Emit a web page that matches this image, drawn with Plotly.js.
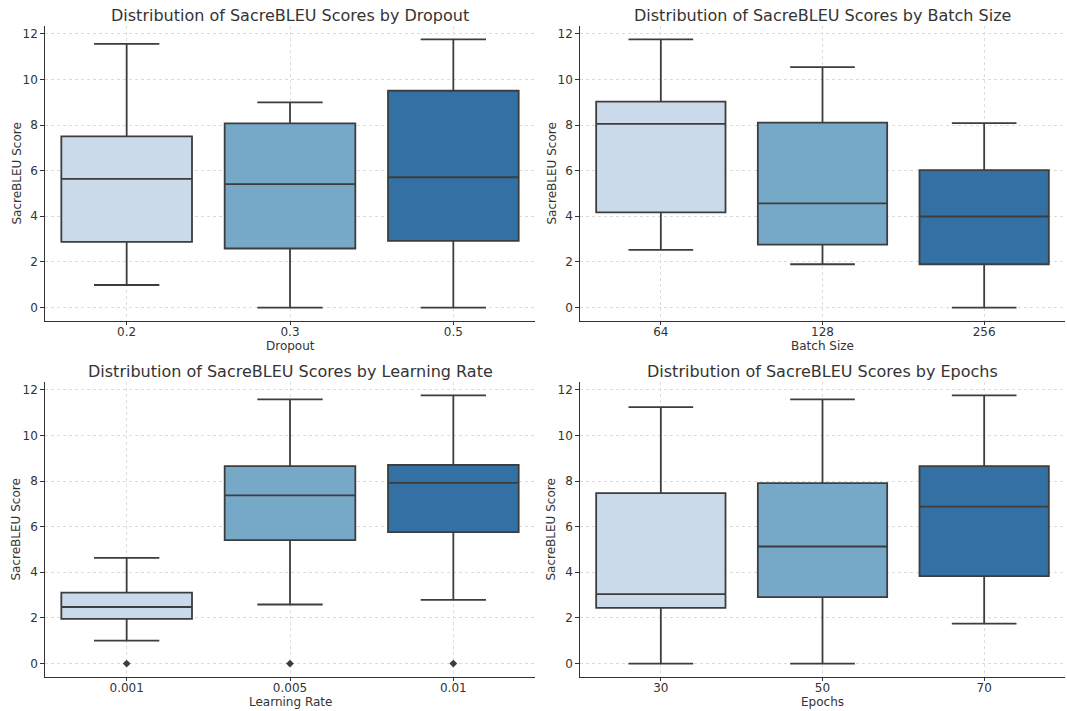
<!DOCTYPE html>
<html>
<head>
<meta charset="utf-8">
<script src="https://cdn.plot.ly/plotly-3.0.1.min.js"></script>
<style>html,body{margin:0;padding:0;background:#fff;}#chart{width:1067px;height:711px;}</style>
</head>
<body>
<div id="chart"></div>
<script>
// ---- data ----
const dropoutCats = ["0.2", "0.3", "0.5"];
const dropoutQ1 = [2.88, 2.59, 2.92];
const dropoutMed = [5.64, 5.41, 5.71];
const dropoutQ3 = [7.50, 8.07, 9.50];
const dropoutLo = [0.99, 0.0, 0.0];
const dropoutHi = [11.55, 8.99, 11.75];
const dropoutOut = [[], [], []];

const batchCats = ["64", "128", "256"];
const batchQ1 = [4.17, 2.76, 1.90];
const batchMed = [8.05, 4.57, 3.99];
const batchQ3 = [9.02, 8.10, 6.02];
const batchLo = [2.53, 1.90, 0.0];
const batchHi = [11.75, 10.54, 8.08];
const batchOut = [[], [], []];

const lrCats = ["0.001", "0.005", "0.01"];
const lrQ1 = [1.96, 5.41, 5.76];
const lrMed = [2.48, 7.37, 7.92];
const lrQ3 = [3.11, 8.65, 8.70];
const lrLo = [1.01, 2.59, 2.79];
const lrHi = [4.63, 11.58, 11.75];
const lrOut = [[0.0], [0.0], [0.0]];

const epochCats = ["30", "50", "70"];
const epochQ1 = [2.44, 2.91, 3.83];
const epochMed = [3.04, 5.13, 6.88];
const epochQ3 = [7.47, 7.91, 8.65];
const epochLo = [0.0, 0.0, 1.75];
const epochHi = [11.24, 11.58, 11.75];
const epochOut = [[], [], []];

const panelTitles = ["Distribution of SacreBLEU Scores by Dropout",
                     "Distribution of SacreBLEU Scores by Batch Size",
                     "Distribution of SacreBLEU Scores by Learning Rate",
                     "Distribution of SacreBLEU Scores by Epochs"];
const xLabels = ["Dropout", "Batch Size", "Learning Rate", "Epochs"];
const yLabel = "SacreBLEU Score";

// ---- styling ----
const fills = ["#cadaea", "#76a8c8", "#3370a3"];
const edge = "#3d3d3d";
const font = "DejaVu Sans, sans-serif";

const panels = [
  [dropoutCats, dropoutQ1, dropoutMed, dropoutQ3, dropoutLo, dropoutHi, dropoutOut],
  [batchCats, batchQ1, batchMed, batchQ3, batchLo, batchHi, batchOut],
  [lrCats, lrQ1, lrMed, lrQ3, lrLo, lrHi, lrOut],
  [epochCats, epochQ1, epochMed, epochQ3, epochLo, epochHi, epochOut]
];

const W = 1067, H = 711;
const xDom = [[45 / W, 535 / W], [580 / W, 1065 / W], [45 / W, 535 / W], [580 / W, 1065 / W]];
const yDom = [[1 - 321 / H, 1 - 26 / H], [1 - 321 / H, 1 - 26 / H], [1 - 677 / H, 1 - 382 / H], [1 - 677 / H, 1 - 382 / H]];
const xTitleY = [346, 346, 702, 702];
const yTitleX = [16, 551, 16, 551];

const traces = [];
const layout = {
  width: W, height: H,
  margin: {l: 0, r: 0, t: 0, b: 0},
  paper_bgcolor: "#ffffff", plot_bgcolor: "#ffffff",
  showlegend: false,
  font: {family: font, color: "#333333", size: 12},
  annotations: []
};

panels.forEach((p, i) => {
  const [cats, q1, med, q3, lo, hi, out] = p;
  const n = i + 1;
  const xa = n === 1 ? "x" : "x" + n;
  const ya = n === 1 ? "y" : "y" + n;
  cats.forEach((c, j) => {
    traces.push({
      type: "box", xaxis: xa, yaxis: ya,
      x: [c], q1: [q1[j]], median: [med[j]], q3: [q3[j]],
      lowerfence: [lo[j]], upperfence: [hi[j]],
      width: 0.8, whiskerwidth: 0.5,
      fillcolor: fills[j],
      line: {color: edge, width: 1.8},
      boxpoints: false, hoverinfo: "y"
    });
    if (out[j].length) {
      traces.push({
        type: "scatter", mode: "markers", xaxis: xa, yaxis: ya,
        x: out[j].map(() => c), y: out[j],
        marker: {symbol: "diamond", size: 6, color: edge},
        hoverinfo: "y"
      });
    }
  });
  const axKey = n === 1 ? "" : String(n);
  layout["xaxis" + axKey] = {
    domain: xDom[i], anchor: ya, type: "category",
    categoryorder: "array", categoryarray: cats,
    range: [-0.5, 2.5],
    showline: true, linecolor: "#333333", linewidth: 1.2,
    ticks: "outside", ticklen: 3, tickcolor: "#333333",
    ticklabelstandoff: -4,
    showgrid: true, gridcolor: "#dcdcdc", griddash: "dot", gridwidth: 1,
    zeroline: false,
    tickfont: {size: 12, color: "#333333"},
    fixedrange: true
  };
  layout["yaxis" + axKey] = {
    domain: yDom[i], anchor: xa,
    range: [-0.5875, 12.3375],
    tickvals: [0, 2, 4, 6, 8, 10, 12],
    showline: true, linecolor: "#333333", linewidth: 1.2,
    ticks: "outside", ticklen: 3.5, tickcolor: "#333333",
    showgrid: true, gridcolor: "#dcdcdc", griddash: "dot", gridwidth: 1,
    zeroline: false,
    tickfont: {size: 12, color: "#333333"},
    fixedrange: true
  };
  layout.annotations.push({
    xref: "paper", yref: "paper",
    x: (xDom[i][0] + xDom[i][1]) / 2, y: yDom[i][1] + 11 / H,
    xanchor: "center", yanchor: "middle",
    text: panelTitles[i], showarrow: false,
    font: {size: 16, color: "#333333", family: font}
  });
  layout.annotations.push({
    xref: "paper", yref: "paper",
    x: (xDom[i][0] + xDom[i][1]) / 2, y: 1 - xTitleY[i] / H,
    xanchor: "center", yanchor: "middle",
    text: xLabels[i], showarrow: false,
    font: {size: 12, color: "#333333", family: font}
  });
  layout.annotations.push({
    xref: "paper", yref: "paper",
    x: yTitleX[i] / W, y: (yDom[i][0] + yDom[i][1]) / 2,
    xanchor: "center", yanchor: "middle", textangle: -90,
    text: yLabel, showarrow: false,
    font: {size: 12, color: "#333333", family: font}
  });
});

Plotly.newPlot("chart", traces, layout, {staticPlot: true, displayModeBar: false});
</script>
</body>
</html>
